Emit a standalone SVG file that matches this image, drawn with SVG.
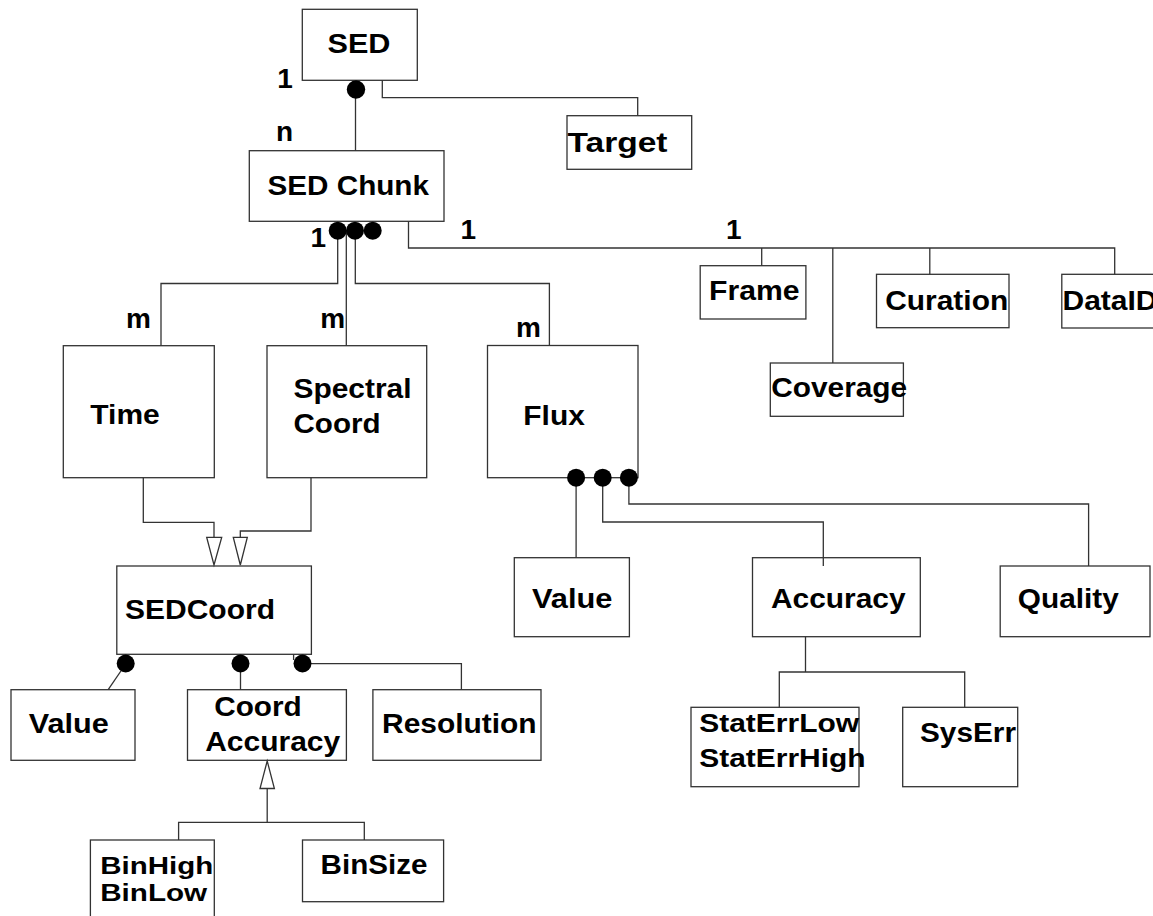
<svg xmlns="http://www.w3.org/2000/svg" width="1153" height="916" viewBox="0 0 1153 916">
<style>
.box{fill:#fff;stroke:#333;stroke-width:1.3}
.ln{fill:none;stroke:#333;stroke-width:1.3}
.tri{fill:#fff;stroke:#333;stroke-width:1.3}
.dot{fill:#000}
.t{font-family:"Liberation Sans",Arial,Helvetica,sans-serif;font-weight:bold;font-size:28px;fill:#000}
.s{font-size:26px}
.b{font-size:24px}
</style>
<rect width="1153" height="916" fill="#fff"/>
<g id="SED"><rect class="box" x="302.3" y="9.3" width="115" height="71"/><text class="t" x="327.5" y="53.3" textLength="63" lengthAdjust="spacingAndGlyphs">SED</text></g>
<g id="Target"><rect class="box" x="567" y="115.7" width="124.7" height="53.6"/><text class="t" x="567.5" y="151.7" textLength="100" lengthAdjust="spacingAndGlyphs">Target</text></g>
<g id="SEDChunk"><rect class="box" x="249.3" y="150.7" width="194.7" height="70.6"/><text class="t" x="267.5" y="195" textLength="161.5" lengthAdjust="spacingAndGlyphs">SED Chunk</text></g>
<g id="Frame"><rect class="box" x="700.2" y="265.7" width="105.7" height="53.3"/><text class="t" x="709" y="300" textLength="90.5" lengthAdjust="spacingAndGlyphs">Frame</text></g>
<g id="Coverage"><rect class="box" x="770.3" y="363" width="133.1" height="53.3"/><text class="t" x="771.2" y="396.7" textLength="136" lengthAdjust="spacingAndGlyphs">Coverage</text></g>
<g id="Curation"><rect class="box" x="876.5" y="274.3" width="132.5" height="53.4"/><text class="t" x="885.2" y="310" textLength="123" lengthAdjust="spacingAndGlyphs">Curation</text></g>
<g id="DataID"><rect class="box" x="1061.8" y="274.3" width="110" height="53.7"/><text class="t" x="1062.5" y="310" textLength="95" lengthAdjust="spacingAndGlyphs">DataID</text></g>
<g id="Time"><rect class="box" x="63.3" y="345.7" width="151" height="132"/><text class="t" x="90.3" y="424.3" textLength="69.5" lengthAdjust="spacingAndGlyphs">Time</text></g>
<g id="SpectralCoord"><rect class="box" x="267" y="345.7" width="159.7" height="132"/><text class="t" x="293.5" y="398.3" textLength="118" lengthAdjust="spacingAndGlyphs">Spectral</text><text class="t" x="293.5" y="433.3" textLength="87" lengthAdjust="spacingAndGlyphs">Coord</text></g>
<g id="Flux"><rect class="box" x="487.5" y="345.5" width="150.5" height="132.2"/><text class="t" x="523.3" y="425" textLength="61.5" lengthAdjust="spacingAndGlyphs">Flux</text></g>
<g id="FluxValue"><rect class="box" x="514.3" y="557.7" width="115.1" height="79"/><text class="t" x="532" y="608.3" textLength="80.5" lengthAdjust="spacingAndGlyphs">Value</text></g>
<g id="Accuracy"><rect class="box" x="752.5" y="557.7" width="167.8" height="79"/><text class="t" x="771" y="608.3" textLength="134.5" lengthAdjust="spacingAndGlyphs">Accuracy</text></g>
<g id="Quality"><rect class="box" x="1000.2" y="566" width="149.8" height="70.7"/><text class="t" x="1017.8" y="608.3" textLength="101" lengthAdjust="spacingAndGlyphs">Quality</text></g>
<g id="SEDCoord"><rect class="box" x="116.8" y="566" width="194.6" height="88.3"/><text class="t" x="125" y="619" textLength="150" lengthAdjust="spacingAndGlyphs">SEDCoord</text></g>
<g id="CoordValue"><rect class="box" x="11" y="689.7" width="124" height="70.6"/><text class="t" x="28.8" y="733.3" textLength="80" lengthAdjust="spacingAndGlyphs">Value</text></g>
<g id="CoordAccuracy"><rect class="box" x="187.5" y="689.7" width="158.9" height="70.6"/><text class="t" x="214.2" y="716" textLength="87.5" lengthAdjust="spacingAndGlyphs">Coord</text><text class="t" x="205.2" y="751" textLength="135" lengthAdjust="spacingAndGlyphs">Accuracy</text></g>
<g id="Resolution"><rect class="box" x="372.9" y="689.7" width="168.1" height="70.6"/><text class="t" x="382.1" y="733.3" textLength="154.5" lengthAdjust="spacingAndGlyphs">Resolution</text></g>
<g id="BinHighLow"><rect class="box" x="90.4" y="840" width="123.9" height="90"/><text class="t b" x="100.2" y="874.3" textLength="113" lengthAdjust="spacingAndGlyphs">BinHigh</text><text class="t b" x="100.2" y="900.7" textLength="107" lengthAdjust="spacingAndGlyphs">BinLow</text></g>
<g id="BinSize"><rect class="box" x="302.5" y="840" width="141.1" height="61.7"/><text class="t" x="320.6" y="874.3" textLength="107" lengthAdjust="spacingAndGlyphs">BinSize</text></g>
<g id="StatErr"><rect class="box" x="691" y="707.3" width="168" height="79.4"/><text class="t s" x="699.2" y="731.7" textLength="160" lengthAdjust="spacingAndGlyphs">StatErrLow</text><text class="t s" x="699.2" y="767.3" textLength="166.5" lengthAdjust="spacingAndGlyphs">StatErrHigh</text></g>
<g id="SysErr"><rect class="box" x="902.7" y="707.3" width="115" height="79.4"/><text class="t" x="920" y="742.3" textLength="96" lengthAdjust="spacingAndGlyphs">SysErr</text></g>
<g id="connectors">
<line class="ln" x1="355.5" y1="89" x2="355.5" y2="150.7"/>
<circle class="dot" cx="356" cy="89.5" r="9.2"/>
<polyline class="ln" points="382.3,80.3 382.3,97.7 637.7,97.7 637.7,115.7"/>
<polyline class="ln" points="337.7,230.7 337.7,283.5 161,283.5 161,345.7"/>
<line class="ln" x1="346.3" y1="230" x2="346.3" y2="345.7"/>
<polyline class="ln" points="355.3,230.7 355.3,283.5 549.4,283.5 549.4,345.5"/>
<circle class="dot" cx="337.7" cy="230.7" r="9"/>
<circle class="dot" cx="355" cy="230.7" r="9"/>
<circle class="dot" cx="372.7" cy="230.7" r="9"/>
<polyline class="ln" points="408.5,221.3 408.5,248 1114.7,248 1114.7,274.3"/>
<line class="ln" x1="761.7" y1="248" x2="761.7" y2="265.7"/>
<line class="ln" x1="832.8" y1="248" x2="832.8" y2="363"/>
<line class="ln" x1="929.8" y1="248" x2="929.8" y2="274.3"/>
<polyline class="ln" points="143.3,477.7 143.3,522.3 214,522.3 214,537.3"/>
<polygon class="tri" points="206.7,537.3 221.7,537.3 214,565"/>
<polyline class="ln" points="311,477.7 311,531 240.3,531 240.3,537.3"/>
<polygon class="tri" points="233.3,537.3 247.3,537.3 240.3,565"/>
<line class="ln" x1="576.1" y1="477.7" x2="576.1" y2="557.7"/>
<polyline class="ln" points="602.7,477.7 602.7,522 823.3,522 823.3,566"/>
<polyline class="ln" points="628.9,477.7 628.9,504 1088.6,504 1088.6,566"/>
<circle class="dot" cx="576.1" cy="477.7" r="9"/>
<circle class="dot" cx="602.7" cy="477.7" r="9"/>
<circle class="dot" cx="628.9" cy="477.7" r="9"/>
<line class="ln" x1="805.5" y1="636.7" x2="805.5" y2="672"/>
<polyline class="ln" points="779.3,707.3 779.3,672 964.7,672 964.7,707.3"/>
<line class="ln" x1="125.7" y1="664" x2="108.2" y2="689.7"/>
<line class="ln" x1="240.5" y1="664" x2="240.5" y2="689.7"/>
<polyline class="ln" points="302.5,663.7 461.4,663.7 461.4,689.7"/>
<line class="ln" x1="293.6" y1="654.3" x2="293.6" y2="660"/>
<circle class="dot" cx="125.7" cy="663.5" r="9"/>
<circle class="dot" cx="240.5" cy="663.5" r="9"/>
<circle class="dot" cx="302.5" cy="663.5" r="9"/>
<polygon class="tri" points="267.2,761 260,788.5 274.4,788.5"/>
<line class="ln" x1="267.2" y1="788.5" x2="267.2" y2="822.3"/>
<polyline class="ln" points="178.6,840 178.6,822.3 364.3,822.3 364.3,840"/>
<text class="t" x="285" y="88.3" text-anchor="middle">1</text>
<text class="t" x="284.6" y="140.7" text-anchor="middle">n</text>
<text class="t" x="318.3" y="246.7" text-anchor="middle">1</text>
<text class="t" x="468.4" y="239" text-anchor="middle">1</text>
<text class="t" x="733.8" y="239" text-anchor="middle">1</text>
<text class="t" x="138.5" y="328.3" text-anchor="middle">m</text>
<text class="t" x="332.8" y="328.3" text-anchor="middle">m</text>
<text class="t" x="528.5" y="336.7" text-anchor="middle">m</text>
</g>
</svg>
